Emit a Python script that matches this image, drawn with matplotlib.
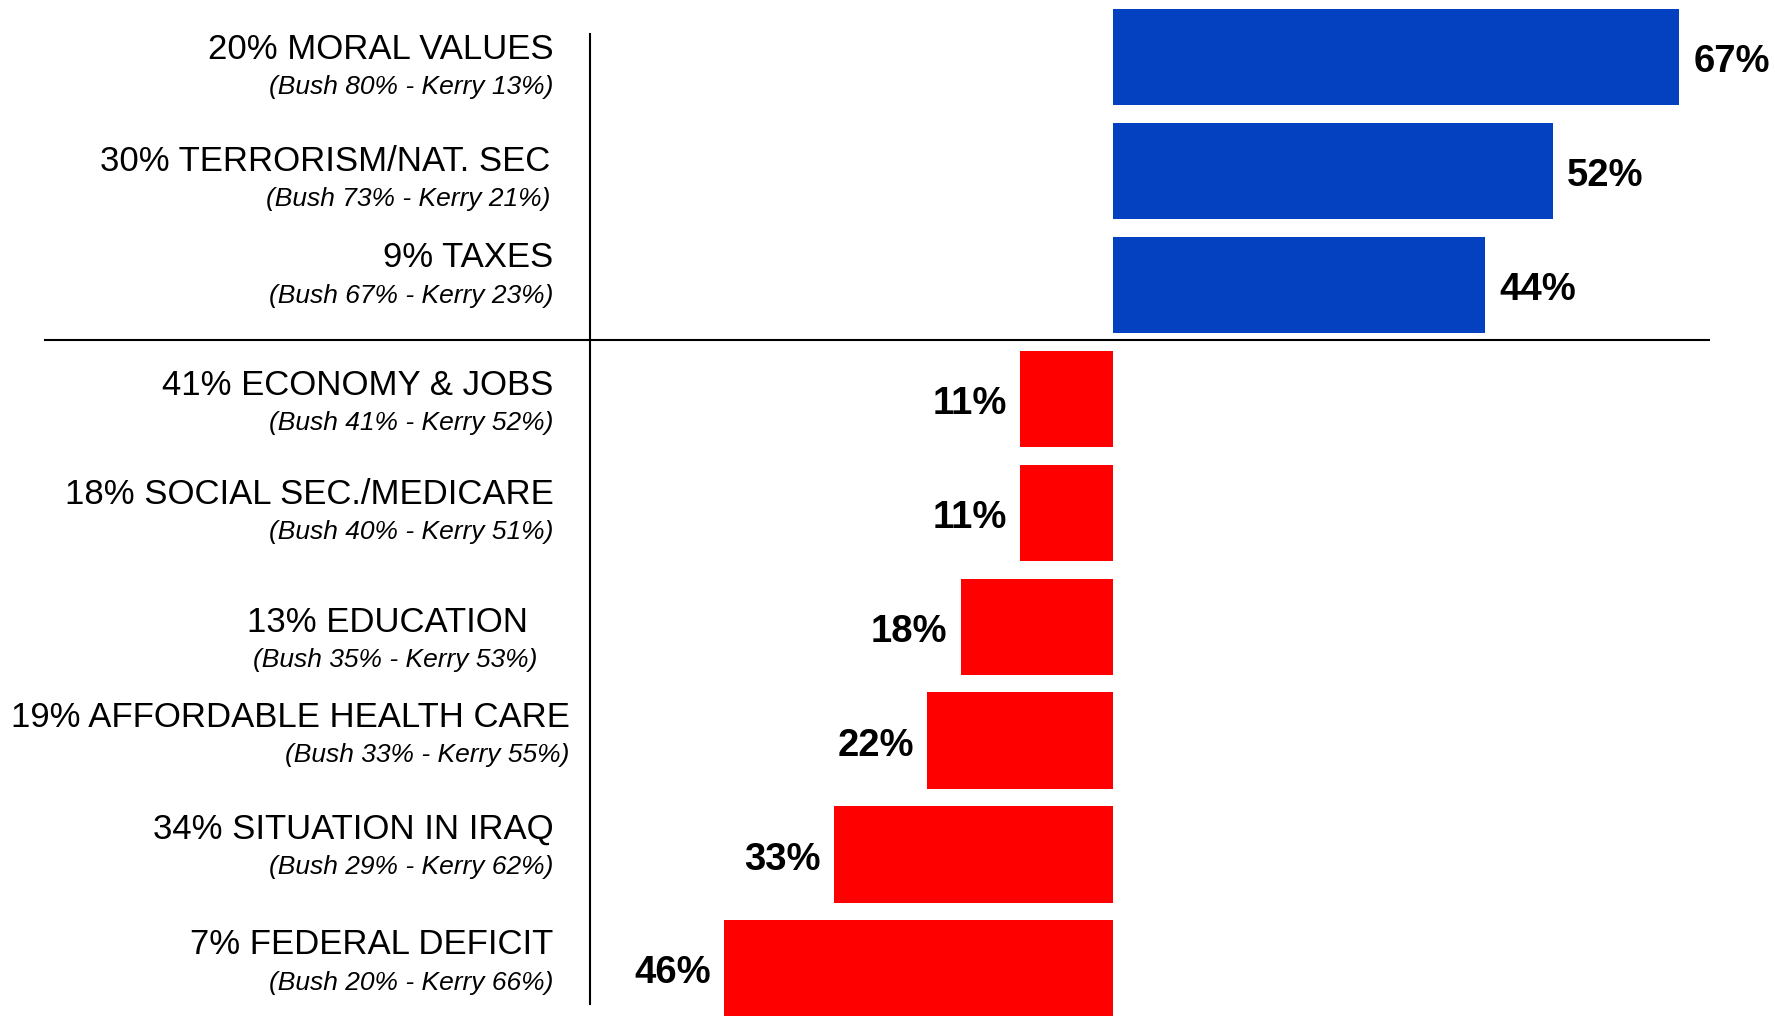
import matplotlib
matplotlib.use('Agg')

import matplotlib.pyplot as plt

# exit poll 2004: most important issue, share of voters, and Bush-Kerry vote
issues = ["MORAL VALUES", "TERRORISM/NAT. SEC", "TAXES", "ECONOMY & JOBS",
          "SOCIAL SEC./MEDICARE", "EDUCATION ", "AFFORDABLE HEALTH CARE",
          "SITUATION IN IRAQ", "FEDERAL DEFICIT"]
share = [20, 30, 9, 41, 18, 13, 19, 34, 7]
bush = [80, 73, 67, 41, 40, 35, 33, 29, 20]
kerry = [13, 21, 23, 52, 51, 53, 55, 62, 66]
margin = [67, 52, 44, -11, -11, -18, -22, -33, -46]

# label layout (data units)
label_right = [-66.2, -66.6, -66.2, -66.2, -66.2, -68.1, -64.3, -66.2, -66.2]
label_dy = [0.015, -0.001, -0.156, -0.033, -0.079, 0.045, -0.120, -0.136, -0.122]

plt.rcParams['font.family'] = ['Liberation Sans', 'DejaVu Sans']

fig = plt.figure(figsize=(17.75, 10.17), dpi=100)
ax = fig.add_axes([0, 0, 1, 1])
ax.axis('off')

ys = list(range(len(issues)))
colors = ['#0341C1' if m > 0 else '#FF0000' for m in margin]
ax.barh(ys, margin, height=0.845, color=colors)

ax.set_xlim(-131.7, 78.3)
ax.set_ylim(8.427, -0.502)

ax.plot([-126.4, 70.5], [2.48, 2.48], color='black', lw=1.5)
ax.plot([-61.9, -61.9], [-0.204, 8.313], color='black', lw=1.5)

for i in ys:
    y = i + label_dy[i]
    ax.text(label_right[i], y, f"{share[i]}% {issues[i]}", ha='right',
            va='baseline', fontsize=25)
    ax.text(label_right[i], y + 0.31, f"(Bush {bush[i]}% - Kerry {kerry[i]}%)",
            ha='right', va='baseline', fontsize=19, style='italic')
    m = margin[i]
    if m > 0:
        ax.text(m + 1.7, i + 0.045, f"{m}%", ha='left', va='center',
                fontsize=27.5, fontweight='bold')
    else:
        ax.text(m - 1.6, i + 0.045, f"{-m}%", ha='right', va='center',
                fontsize=27.5, fontweight='bold')

fig.savefig("out.png", dpi=100)
